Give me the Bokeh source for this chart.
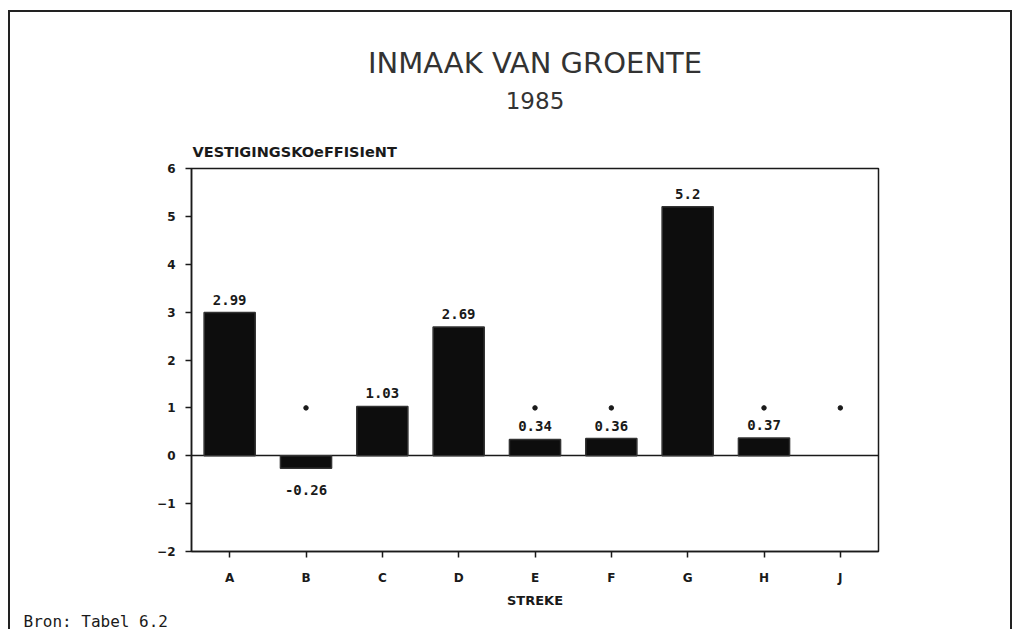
import math
from bokeh.plotting import figure
from bokeh.models import ColumnDataSource, FactorRange, Range1d, FixedTicker, Title
from bokeh.core.properties import value
from bokeh.embed import file_html
from bokeh.resources import INLINE

# ---- data ----
regions = ["A", "B", "C", "D", "E", "F", "G", "H", "J"]
coefficients = [2.99, -0.26, 1.03, 2.69, 0.34, 0.36, 5.2, 0.37, float("nan")]
ref_markers = [float("nan"), 1, float("nan"), float("nan"), 1, 1, float("nan"), 1, 1]
y_ticks = [-2, -1, 0, 1, 2, 3, 4, 5, 6]

title_text = "INMAAK VAN GROENTE"
year_text = "1985"
y_label = "VESTIGINGSKOeFFISIeNT"
x_label = "STREKE"
source_text = "Bron: Tabel 6.2"

labels = ["" if math.isnan(v) else f"{v:g}" for v in coefficients]
offsets = [0 if math.isnan(v) else (-13 if v >= 0 else 22) for v in coefficients]

src = ColumnDataSource(dict(region=regions, value=coefficients, marker=ref_markers,
                            label=labels, yoff=offsets))

INK = "#1a1a1a"

p = figure(x_range=FactorRange(factors=regions, range_padding=0),
           y_range=Range1d(-2, 6),
           width=1004, height=619,
           output_backend="svg", toolbar_location=None,
           min_border_left=181, min_border_right=136,
           min_border_top=156, min_border_bottom=80)
p.title_location = None
p.styles = {"margin-left": "8px", "margin-top": "10px",
            "border-left": "2px solid #222", "border-top": "2px solid #222",
            "border-right": "2px solid #222"}

p.background_fill_color = "white"
p.border_fill_color = "white"
p.outline_line_color = INK
p.outline_line_width = 1.5
p.xgrid.visible = False
p.ygrid.visible = False

# texts above the plot area (first added sits nearest the frame)
p.add_layout(Title(text=y_label, align="left", offset=1, vertical_align="middle",
                   standoff=15.3, text_font="DejaVu Sans", text_font_style="bold",
                   text_font_size="14.5px", text_color=INK), "above")
p.add_layout(Title(text="\u00a0", align="left", vertical_align="middle",
                   standoff=13.4, text_font="DejaVu Sans",
                   text_font_size="10px", text_color="white"), "above")
p.add_layout(Title(text=year_text, align="center", vertical_align="middle",
                   standoff=0, text_font="DejaVu Sans", text_font_style="normal",
                   text_font_size="23px", text_color="#333333"), "above")
p.add_layout(Title(text=title_text, align="center", vertical_align="middle",
                   standoff=20.4, text_font="DejaVu Sans", text_font_style="normal",
                   text_font_size="29px", text_color="#333333"), "above")

# axes
for ax in (p.xaxis[0], p.yaxis[0]):
    ax.axis_line_color = INK
    ax.axis_line_width = 1.5
    ax.major_tick_line_color = INK
    ax.major_tick_line_width = 1.5
    ax.major_tick_out = 6
    ax.major_tick_in = 0
    ax.minor_tick_line_color = None
    ax.major_label_text_font = "DejaVu Sans"
    ax.major_label_text_font_style = "bold"
    ax.major_label_text_font_size = "12px"
    ax.major_label_text_color = INK

p.yaxis[0].ticker = FixedTicker(ticks=y_ticks)
p.yaxis[0].major_label_standoff = 10
p.xaxis[0].major_label_standoff = 13
p.xaxis[0].axis_label = x_label
p.xaxis[0].axis_label_standoff = 5
p.xaxis[0].axis_label_text_font = "DejaVu Sans"
p.xaxis[0].axis_label_text_font_style = "bold"
p.xaxis[0].axis_label_text_font_size = "13px"
p.xaxis[0].axis_label_text_color = INK

# source note below the axis
p.add_layout(Title(text=source_text, align="left", offset=-168, vertical_align="middle",
                   standoff=0, text_font="DejaVu Sans Mono", text_font_style="normal",
                   text_font_size="16px", text_color=INK), "below")

# zero line
p.hspan(y=[0], line_color=INK, line_width=1.5)

# bars
p.vbar(x="region", top="value", bottom=0, width=0.67, source=src,
       fill_color="#0d0d0d", line_color="#333333", line_width=1.5)

# reference markers
p.scatter(x="region", y="marker", size=4.5, source=src, fill_color=INK, line_color=INK)

# value labels
p.text(x="region", y="value", text="label", y_offset="yoff", source=src,
       text_align="center", text_baseline="middle",
       text_font=value("DejaVu Sans Mono"), text_font_style="bold",
       text_font_size="14px", text_color=INK)

open("out.html", "w").write(file_html(p, INLINE))
